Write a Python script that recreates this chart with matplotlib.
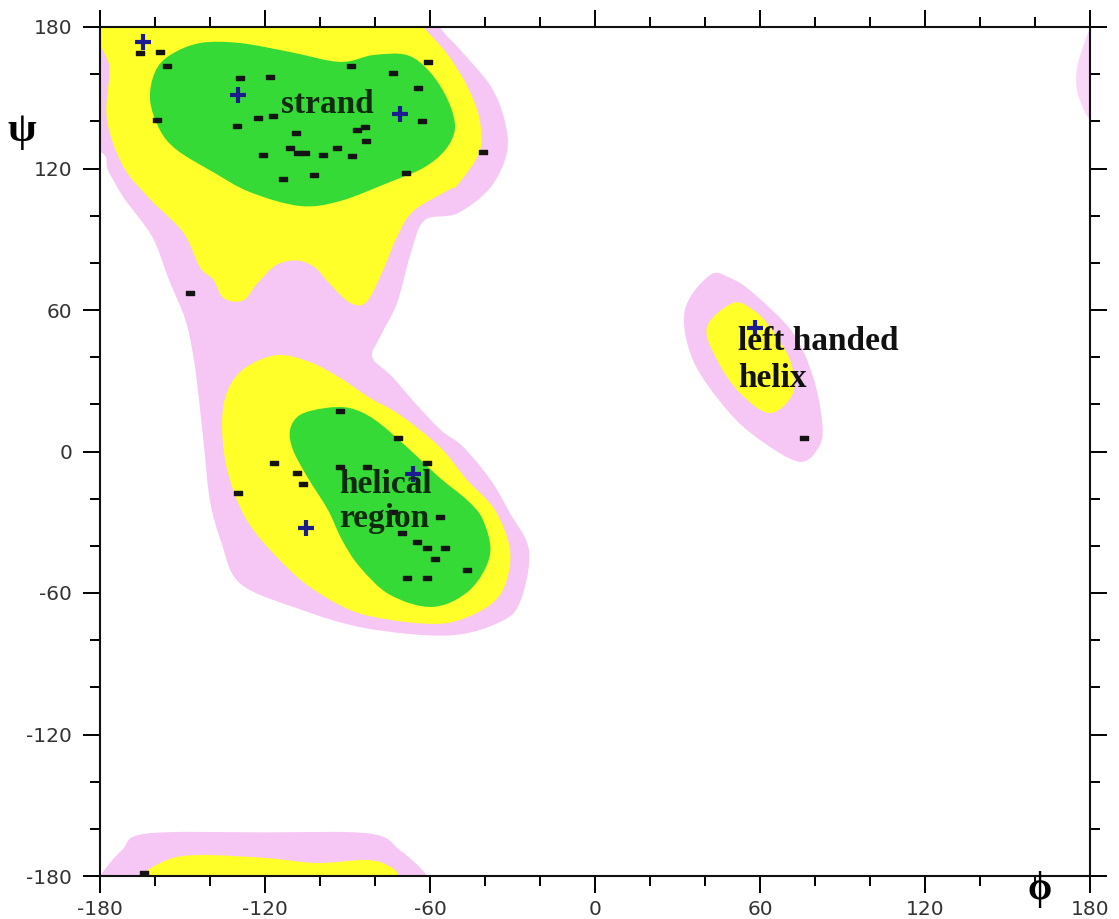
import numpy as np
import matplotlib
matplotlib.use("Agg")
import matplotlib.pyplot as plt
from matplotlib.path import Path
from matplotlib.patches import PathPatch

plt.rcParams["axes.unicode_minus"] = False

# region outlines (phi, psi in degrees)
strand_pink_phi = [-200, -64, -57, -48, -38, -33, -32, -38, -50, -62, -67, -72, -78, -81,
                   -74, -65, -56, -48, -38, -31, -24, -27, -34, -53, -83, -107, -129,
                   -136, -140, -142, -144, -146, -149, -155, -161, -171, -177, -180, -200]
strand_pink_psi = [200, 200, 181, 169, 155, 141, 127, 112, 101, 98, 84, 63, 49, 40,
                   32, 20, 9, 2, -12, -26, -42, -63, -72, -78, -75, -67, -56,
                   -38, -21, 0, 22, 40, 56, 73, 91, 107, 119, 127, 130]

strand_yellow_phi = [-176, -176.5, -177.5, -171.6, -161.8, -149.8, -143.6, -138.9, -135,
                     -128, -123, -116, -108.4, -101.8, -96.4, -89, -83, -77, -72, -66,
                     -53, -50, -42, -42, -46.5, -54, -63, -70]
strand_yellow_psi = [194, 162, 141, 121, 107, 93, 78, 73, 65,
                     64, 71, 79, 81, 78, 71, 63, 63.5, 77, 91, 102,
                     111, 113, 127, 141, 155, 169, 181, 194]

strand_green_phi = [-143.6, -154.5, -160, -161.8, -158.2, -152, -138.9, -125.5, -107.3,
                    -92.7, -74.5, -62.5, -54.5, -50.9, -53.5, -60, -68.4, -80.7, -92.7,
                    -110.9, -129.1]
strand_green_psi = [173.2, 168.1, 160.9, 149, 136.3, 127.8, 118.5, 110, 104.1,
                    106.2, 114.3, 120.2, 127.8, 137.2, 149, 160.9, 168.1, 168.1, 165.2,
                    169.4, 173.2]

helix_yellow_phi = [-115.6, -103.6, -92.7, -81.8, -70.9, -56.4, -46.5, -36.4, -30.9,
                    -32.7, -38.2, -49.1, -58.9, -74.5, -89.1, -104.7, -116.4, -125.5,
                    -130.9, -134.5, -135.6, -133.5, -127.3]
helix_yellow_psi = [40.9, 37.9, 31.2, 22.7, 15.5, 1.9, -12.1, -24.8, -41.8,
                    -56.6, -65.1, -71.4, -73.1, -71.4, -67.2, -56.6, -43.9, -31.2,
                    -18.4, -3.6, 13.4, 26.1, 35.4]

helix_green_phi = [-98.2, -107.3, -110.9, -109.8, -104.4, -97.1, -92, -85.5, -74.5,
                   -58.9, -45.5, -38.2, -40.7, -46.5, -56.4, -68.4, -80, -89.1]
helix_green_psi = [18.4, 15.5, 9.1, 0.6, -11.2, -24.8, -37.5, -49, -60.8,
                   -65.9, -58.7, -43.9, -29.1, -20.6, -11.2, 1.9, 13.4, 18.4]

left_pink_phi = [41.8, 32.7, 35.6, 48, 60, 74.5, 81.8, 82.5, 79.3, 72, 57.5, 49.1]
left_pink_psi = [74.8, 60, 38.8, 17.6, 4.9, -4.4, 2.8, 13.4, 31.6, 50.3, 67.2, 73.6]

left_yellow_phi = [50.2, 40.7, 44.4, 52.7, 63.6, 72, 70.9, 63.6, 57.5]
left_yellow_psi = [63, 52.8, 38.8, 24.8, 16.3, 24.8, 38.8, 52.8, 60]

bottom_pink_phi = [-186, -180, -172, -163, -120, -82, -71, -61, -56]
bottom_pink_psi = [-192, -180, -169, -162, -161.5, -162, -169, -180, -192]

bottom_yellow_phi = [-166, -165.5, -155.6, -143.6, -119.3, -101.1, -82.9, -74.5, -71, -70]
bottom_yellow_psi = [-192, -180.8, -173.2, -171.1, -172.4, -174.5, -173.2, -176, -181, -192]

edge_pink_phi = [181, 177, 175, 176, 181, 186, 186]
edge_pink_psi = [180, 170, 160, 150, 140, 150, 170]

# residues
dots_phi = [-165.5, -158.2, -155.6, -129.1, -118.2, -159.3, -122.5, -117.1, -130.2, -108.7,
            -110.9, -108.0, -105.5, -120.7, -98.9, -93.8, -88.4, -86.5, -83.6, -83.3,
            -102.2, -113.5, -88.7, -73.5, -64.4, -62.9, -60.7, -68.9, -40.7, -147.3,
            -92.7, -71.6, -116.7, -108.4, -106.2, -129.8, -61.1, -92.7, -82.9, -73.5,
            -70.2, -56.4, -64.7, -61.1, -54.5, -58.2, -46.5, -68.4, -61.1, 76.0, -164.0]
dots_psi = [169.0, 169.4, 163.5, 158.4, 158.8, 140.6, 141.4, 142.3, 138.0, 135.1,
            128.7, 126.6, 126.6, 125.7, 125.7, 128.7, 125.3, 136.3, 137.6, 131.7,
            117.2, 115.5, 163.5, 160.5, 154.1, 140.1, 165.2, 118.1, 127.0, 67.2,
            17.2, 5.7, -4.9, -9.1, -13.8, -17.6, -4.9, -6.6, -6.6, -25.7,
            -34.6, -27.8, -38.4, -40.9, -40.9, -45.6, -50.2, -53.6, -53.6, 5.7, -178.7]

plus_phi = [-164.4, -129.8, -70.9, -66.2, -105.1, 58.2]
plus_psi = [173.6, 151.2, 143.1, -9.5, -32.4, 52.4]

major_ticks = [-180, -120, -60, 0, 60, 120, 180]

PINK = "#F6C6F4"
YELLOW = "#FFFF2A"
GREEN = "#36DA36"

# small flat dash used for each residue
DASH = Path([(-1, -0.65), (1, -0.65), (1, 0.65), (-1, 0.65), (-1, -0.65)],
            [Path.MOVETO, Path.LINETO, Path.LINETO, Path.LINETO, Path.CLOSEPOLY])


def smooth_region(ax, phi, psi, color, z, alpha=1.0):
    # closed Catmull-Rom outline drawn as cubic bezier through the read points
    pts = np.column_stack([phi, psi]).astype(float)
    n = len(pts)
    verts = [pts[0]]
    codes = [Path.MOVETO]
    for i in range(n):
        p0, p1, p2, p3 = pts[i - 1], pts[i], pts[(i + 1) % n], pts[(i + 2) % n]
        verts += [p1 + (p2 - p0) / 6.0, p2 - (p3 - p1) / 6.0, p2]
        codes += [Path.CURVE4] * 3
    verts.append(pts[0])
    codes.append(Path.CLOSEPOLY)
    ax.add_patch(PathPatch(Path(verts, codes), facecolor=color, edgecolor="none",
                           zorder=z, alpha=alpha))


fig = plt.figure(figsize=(11.19, 9.19), dpi=100)
ax = fig.add_axes([100 / 1119, 43 / 919, 990 / 1119, 849 / 919])

smooth_region(ax, strand_pink_phi, strand_pink_psi, PINK, 1.0)
smooth_region(ax, left_pink_phi, left_pink_psi, PINK, 1.0)
smooth_region(ax, bottom_pink_phi, bottom_pink_psi, PINK, 1.0)
smooth_region(ax, edge_pink_phi, edge_pink_psi, PINK, 1.0, alpha=0.7)
smooth_region(ax, strand_yellow_phi, strand_yellow_psi, YELLOW, 1.1)
smooth_region(ax, helix_yellow_phi, helix_yellow_psi, YELLOW, 1.1)
smooth_region(ax, left_yellow_phi, left_yellow_psi, YELLOW, 1.1)
smooth_region(ax, bottom_yellow_phi, bottom_yellow_psi, YELLOW, 1.1)
smooth_region(ax, strand_green_phi, strand_green_psi, GREEN, 1.2)
smooth_region(ax, helix_green_phi, helix_green_psi, GREEN, 1.2)

ax.plot(dots_phi, dots_psi, linestyle="none", marker=DASH, markersize=5.5,
        color="#141414", zorder=5)
ax.plot(plus_phi, plus_psi, linestyle="none", marker="+", markersize=11,
        markeredgewidth=3, color="#1c1c90", zorder=5)

txt = dict(family="Liberation Serif", fontweight="bold", fontsize=24, zorder=6)
ax.text(-114, 147, "strand", color="#0f2a0f", va="center", ha="left", **txt)
ax.text(-93, -17.6, "helical", color="#0f2a0f", va="baseline", ha="left", **txt)
ax.text(-93, -32, "region", color="#0f2a0f", va="baseline", ha="left", **txt)
ax.text(52, 43, "left handed", color="#111111", va="baseline", ha="left", **txt)
ax.text(52, 27.4, "helix", color="#111111", va="baseline", ha="left", **txt)

ax.set_xlim(-180, 180)
ax.set_ylim(-180, 180)
ax.set_xticks(major_ticks)
ax.set_yticks(major_ticks)
ax.set_xticks(np.arange(-180, 181, 20), minor=True)
ax.set_yticks(np.arange(-180, 181, 20), minor=True)
ax.tick_params(which="major", direction="out", length=12, width=1.4, top=True,
               right=True, labelsize=14.5, labelcolor="#333333")
ax.tick_params(axis="y", which="major", pad=8)
ax.tick_params(axis="x", which="major", pad=5)
ax.tick_params(which="minor", direction="out", length=7, width=1.4, top=True,
               right=True)
for lab in ax.get_xticklabels() + ax.get_yticklabels():
    lab.set_family("DejaVu Sans")
for sp in ax.spines.values():
    sp.set_linewidth(1.5)
    sp.set_color("#111111")

fig.text(22 / 1119, 1 - 131 / 919, "ψ", family="Liberation Serif", fontweight="bold",
         fontsize=30, ha="center", va="center")
fig.text(1040 / 1119, 1 - 890 / 919, "ϕ", family=["Liberation Serif", "DejaVu Serif"],
         fontweight="bold", fontsize=28, ha="center", va="center")

fig.savefig("out.png", dpi=100, facecolor="white")
